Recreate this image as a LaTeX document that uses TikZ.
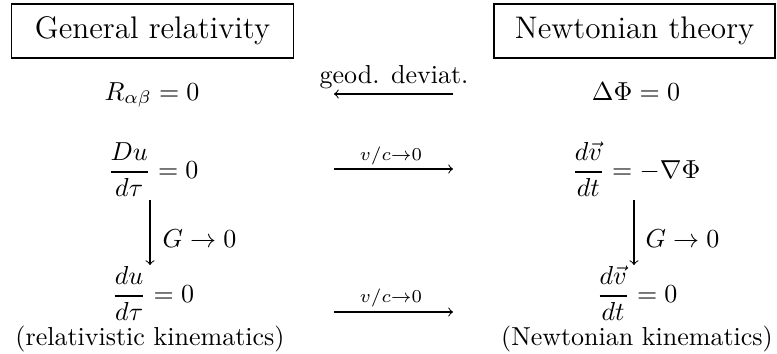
\documentclass[tikz,border=0pt]{standalone}
\usepackage{amsmath}
\begin{document}
\begin{tikzpicture}[x=0.3846pt,y=-0.3846pt,
  theorybox/.style={draw,line width=0.7pt,inner xsep=9pt,inner ysep=5pt,font=\large},
  eq/.style={inner sep=0pt,anchor=base},
  lbl/.style={inner sep=0pt,anchor=base},
  limarrow/.style={-to,line width=0.4pt}]
\useasboundingbox (0,0) rectangle (777,354);
% theory boxes
\node[theorybox] (gr) at (152.5,31) {General relativity};
\node[theorybox,inner xsep=8pt,anchor=east] (nt) at (776,31) {Newtonian theory};
% equations
\node[eq] (rab) at (152,100) {$R_{\alpha\beta}=0$};
\node[eq] (dphi) at (636,100) {$\Delta\Phi=0$};
\node[eq] (Du) at (153,178.5) {$\dfrac{Du}{d\tau}=0$};
\node[eq] (newton) at (636,178.5) {$\dfrac{d\vec v}{dt}=-\nabla\Phi$};
\node[eq] (du) at (153,302.5) {$\dfrac{du}{d\tau}=0$};
\node[eq] (dv) at (637,302.5) {$\dfrac{d\vec v}{dt}=0$};
\node[lbl] (relkin) at (150,345) {(relativistic kinematics)};
\node[lbl] (newkin) at (637,345) {(Newtonian kinematics)};
% horizontal arrows
\coordinate (ga) at (453,94); \coordinate (gb) at (334,94);
\draw[limarrow] (ga) -- (gb);
\node[lbl] (geod) at (394,83) {geod. deviat.};
\coordinate (va) at (334,169); \coordinate (vb) at (453,169);
\draw[limarrow] (va) -- (vb);
\node[lbl] (vlab1) at (391,160) {$\scriptstyle v/c\to0$};
\coordinate (wa) at (334,312); \coordinate (wb) at (453,312);
\draw[limarrow] (wa) -- (wb);
\node[lbl] (vlab2) at (391,302) {$\scriptstyle v/c\to0$};
% vertical arrows
\coordinate (la) at (150,200); \coordinate (lb) at (150,265);
\draw[limarrow] (la) -- (lb);
\node[lbl,anchor=base west] (glab1) at (162,247) {$G\to0$};
\coordinate (ra) at (634,200); \coordinate (rb) at (634,265);
\draw[limarrow] (ra) -- (rb);
\node[lbl,anchor=base west] (glab2) at (645,247) {$G\to0$};
\end{tikzpicture}
\end{document}
